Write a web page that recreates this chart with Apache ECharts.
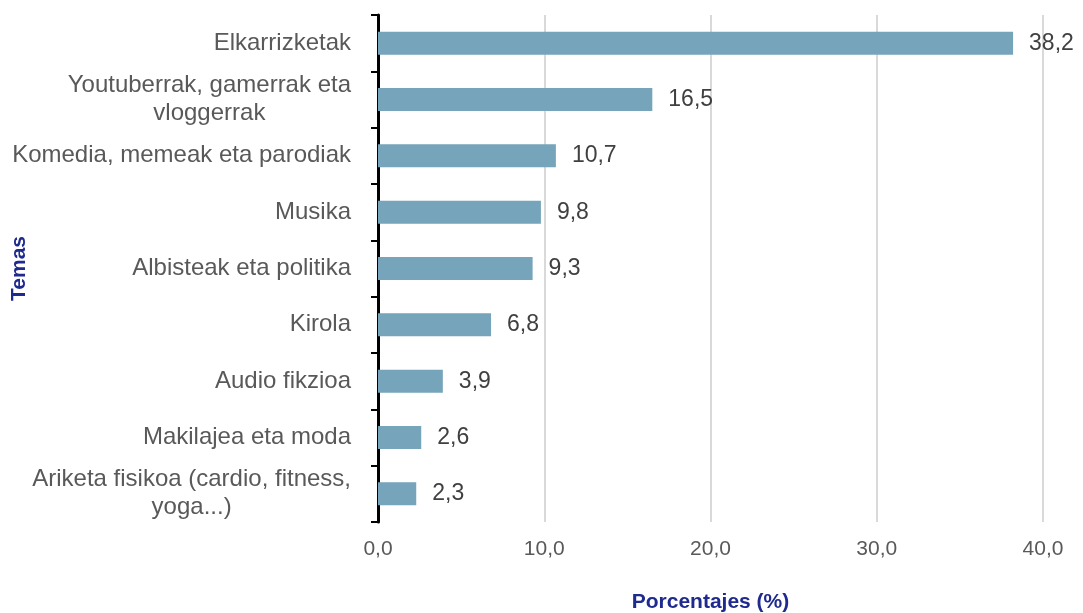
<!DOCTYPE html>
<html>
<head>
<meta charset="utf-8">
<script src="https://cdn.jsdelivr.net/npm/echarts@6/dist/echarts.min.js"></script>
<style>
  html, body { margin: 0; padding: 0; background: #fff; }
  #chart { width: 1083px; height: 613px; }
</style>
</head>
<body>
<div id="chart"></div>
<script>
// temas (categorias) y porcentajes
var temas = [
    'Elkarrizketak',
    'Youtuberrak, gamerrak eta\nvloggerrak',
    'Komedia, memeak eta parodiak',
    'Musika',
    'Albisteak eta politika',
    'Kirola',
    'Audio fikzioa',
    'Makilajea eta moda',
    'Ariketa fisikoa (cardio, fitness,\nyoga...)'
];
var porcentajes = [38.2, 16.5, 10.7, 9.8, 9.3, 6.8, 3.9, 2.6, 2.3];
var xTicks = [0, 10, 20, 30, 40];

var dom = document.getElementById('chart');
var chart = echarts.init(dom);

function coma(v) {
    return v.toFixed(1).replace('.', ',');
}

var option = {
    animation: false,
    textStyle: { fontFamily: 'Liberation Sans, Arial, sans-serif' },
    grid: {
        left: 378,
        right: 40,
        top: 15,
        bottom: 91,
        containLabel: false,
        outerBoundsMode: 'none'
    },
    xAxis: {
        type: 'value',
        min: xTicks[0],
        max: xTicks[xTicks.length - 1],
        interval: 10,
        name: 'Porcentajes (%)',
        nameLocation: 'middle',
        nameGap: 70,
        nameMoveOverlap: false,
        nameTextStyle: { fontSize: 21, fontWeight: 'bold', color: '#1f2a8f' },
        axisLine: { show: false },
        axisTick: { show: false },
        axisLabel: {
            fontSize: 21,
            color: '#595959',
            margin: 17,
            formatter: function (v) { return coma(v); }
        },
        splitLine: { lineStyle: { color: '#d9d9d9', width: 2 } }
    },
    yAxis: {
        type: 'category',
        inverse: true,
        data: temas,
        name: 'Temas',
        nameLocation: 'middle',
        nameGap: 348,
        nameRotate: 90,
        nameMoveOverlap: false,
        nameTextStyle: { fontSize: 21, fontWeight: 'bold', color: '#1f2a8f' },
        axisLine: { lineStyle: { color: '#000', width: 3 } },
        axisTick: { show: true, length: 7, lineStyle: { color: '#000', width: 2 } },
        axisLabel: {
            margin: 27,
            color: '#595959',
            fontSize: 24,
            lineHeight: 28,
            formatter: function (v) {
                return v.split('\n').map(function (l) { return '{c|' + l + '}'; }).join('\n');
            },
            rich: {
                c: { align: 'center', fontSize: 24, color: '#595959', lineHeight: 28 }
            }
        }
    },
    series: [{
        type: 'bar',
        data: porcentajes,
        barWidth: 23,
        itemStyle: { color: '#76a5bb' },
        label: {
            show: true,
            position: 'right',
            distance: 16,
            fontSize: 23,
            color: '#404040',
            formatter: function (p) { return coma(p.value); }
        }
    }]
};
chart.setOption(option);
</script>
</body>
</html>
